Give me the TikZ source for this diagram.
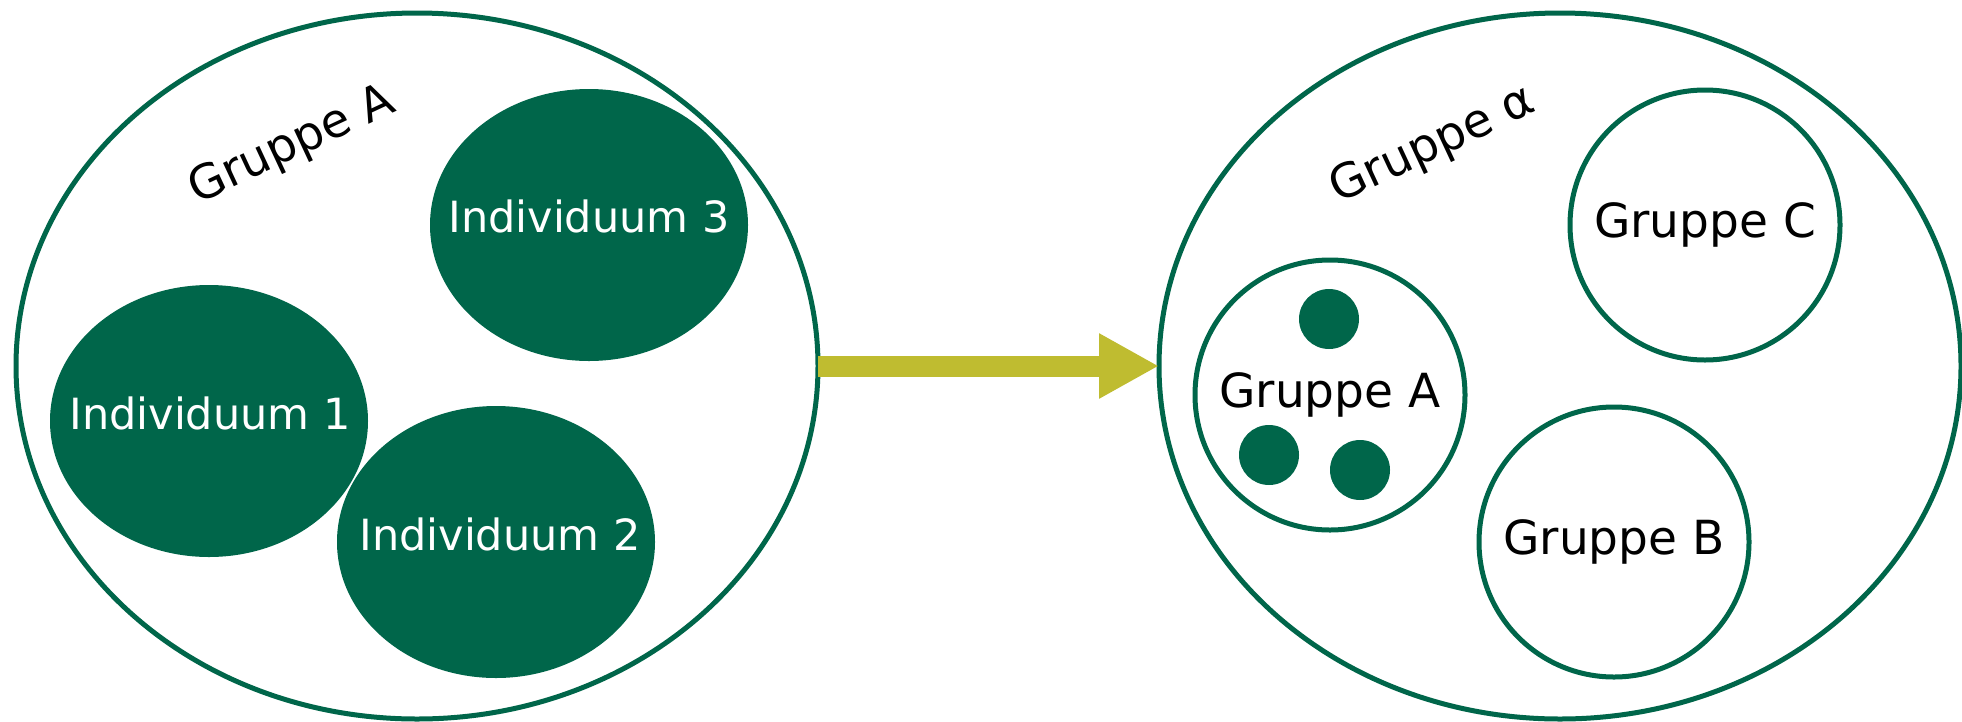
\documentclass[tikz,border=0pt]{standalone}
\usepackage{fontspec}
\setmainfont{DejaVu Sans}
\usetikzlibrary{shapes.geometric,arrows.meta}
\definecolor{dkgreen}{RGB}{0,102,74}
\definecolor{olive}{RGB}{191,188,48}
\begin{document}
\begin{tikzpicture}[x=1pt,y=-1pt,
  bigset/.style={ellipse,draw=dkgreen,line width=5pt,minimum width=802pt,minimum height=706pt,inner sep=0pt,outer sep=0pt},
  person/.style={ellipse,fill=dkgreen,minimum width=318pt,minimum height=272pt,inner sep=0pt,outer sep=0pt},
  persontext/.style={text=white,font=\fontsize{43}{51}\selectfont,inner sep=0pt},
  subset/.style={circle,draw=dkgreen,line width=5pt,minimum size=270pt,inner sep=0pt,font=\fontsize{47}{56}\selectfont},
  member/.style={circle,fill=dkgreen,minimum size=60pt,inner sep=0pt},
  setlabel/.style={rotate=25,font=\fontsize{47}{56}\selectfont,inner sep=0pt}]
\useasboundingbox (0,0) rectangle (1962,721);
% left: group A made of individuals
\node[bigset] (left) at (417,366) {};
\node[setlabel] (labA) at (292,146) {Gruppe A};
\node[person] (p3) at (589,225) {};
\node[person] (p1) at (209,421) {};
\node[person] (p2) at (496,542) {};
\node[persontext] (t3) at (589,216) {Individuum 3};
\node[persontext] (t1) at (210,413) {Individuum 1};
\node[persontext] (t2) at (500,534) {Individuum 2};
% right: group alpha made of groups
\node[bigset] (right) at (1560,366) {};
\node[setlabel] (labAlpha) at (1433,146) {Gruppe α};
\node[subset] (gC) at (1705,225) {Gruppe C};
\node[subset] (gA) at (1330,395) {Gruppe A};
\node[subset] (gB) at (1614,542) {Gruppe B};
\node[member] (m1) at (1329,319) {};
\node[member] (m2) at (1269,455) {};
\node[member] (m3) at (1360,470) {};
% transition arrow
\draw[olive,line width=21pt,-{Triangle[length=60pt,width=61pt]}] (left.east) -- (right.west);
\end{tikzpicture}
\end{document}
